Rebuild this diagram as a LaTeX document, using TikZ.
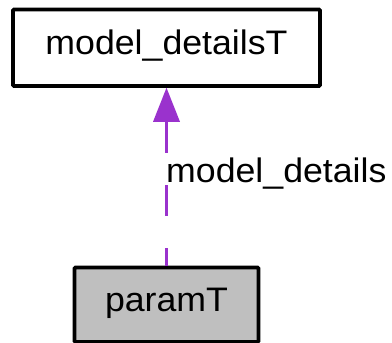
\documentclass[tikz,border=0pt]{standalone}
\usepackage{fontspec}
\setmainfont{Liberation Sans}[FakeStretch=1.05]
\usetikzlibrary{arrows.meta}
\definecolor{edgepurple}{HTML}{9A32CD}
\definecolor{boxgrey}{HTML}{BFBFBF}
\tikzset{
  classbox/.style={draw=black, line width=3.6bp, rounded corners=1bp, inner sep=0pt,
    font=\fontsize{34bp}{40bp}\selectfont, text height=24bp, text depth=10bp},
  edgelabel/.style={inner sep=0pt, font=\fontsize{34bp}{40bp}\selectfont, anchor=base west},
  usage/.style={draw=edgepurple, line width=3.3bp, dash pattern=on 31bp off 32bp, dash phase=13bp,
    -{Triangle[length=34bp,width=27bp,fill=edgepurple,line width=0pt]}}
}
\begin{document}
\begin{tikzpicture}[x=1bp,y=-1bp]
\useasboundingbox (0,0) rectangle (392,343);
\node[classbox, minimum width=307bp, minimum height=76.5bp] (mdnode) at (166.5,47.75) {model\_detailsT};
\node[classbox, fill=boxgrey, minimum width=184bp, minimum height=74.5bp] (paramnode) at (166.5,304.75) {paramT};
\draw[usage] (paramnode.north) -- (mdnode.south);
\node[edgelabel] (lbl) at (166,182) {model\_details};
\end{tikzpicture}
\end{document}
